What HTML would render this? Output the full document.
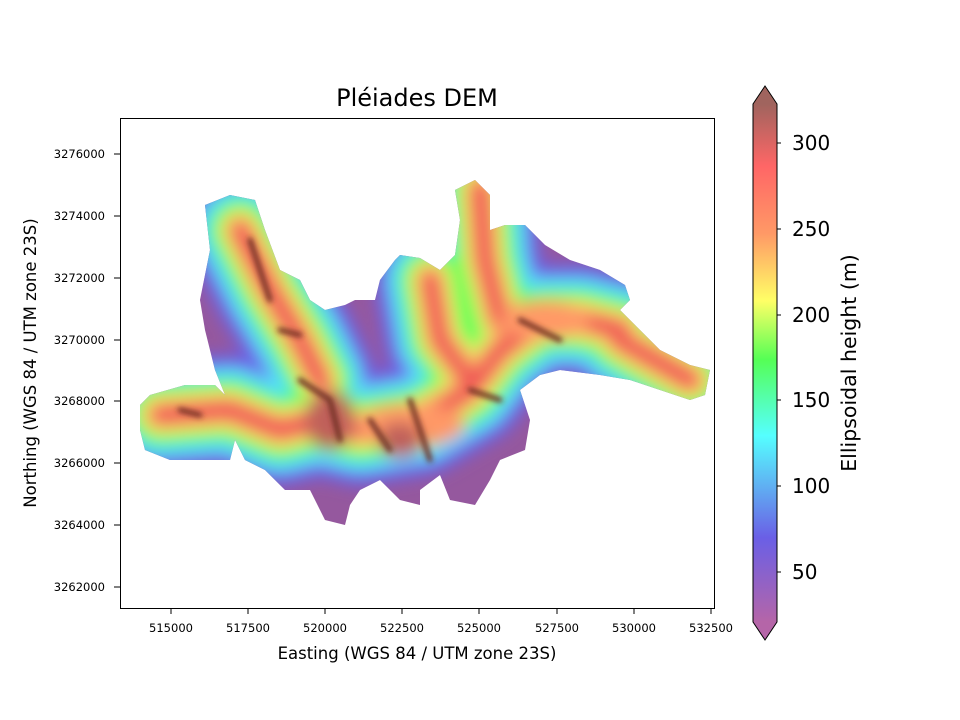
<!DOCTYPE html>
<html><head><meta charset="utf-8"><style>
body{margin:0;background:#fff;}
svg{display:block;font-family:"DejaVu Sans","Liberation Sans",sans-serif;}
</style></head><body>
<svg width="960" height="720" viewBox="0 0 960 720" xmlns="http://www.w3.org/2000/svg">
<defs>
<linearGradient id="cb" x1="0" y1="1" x2="0" y2="0">
<stop offset="0" stop-color="#b565a8"/>
<stop offset="0.163" stop-color="#6a5fe6"/>
<stop offset="0.36" stop-color="#5ff"/>
<stop offset="0.507" stop-color="#5f5"/>
<stop offset="0.62" stop-color="#ff6"/>
<stop offset="0.75" stop-color="#f96"/>
<stop offset="0.88" stop-color="#f66"/>
<stop offset="1" stop-color="#a0645e"/>
</linearGradient>
<clipPath id="land"><path id="lp" d="M140,405 L150,395 185,385 215,385 225,395 215,370 205,330 200,300 210,250 205,205 230,195 255,200 265,230 280,270 300,280 310,300 325,310 345,305 355,300 375,300 380,280 395,260 400,255 420,258 440,270 455,255 460,220 455,190 475,180 490,195 490,230 505,225 525,225 545,245 570,260 600,270 625,285 630,300 620,310 640,330 660,350 690,365 710,370 705,395 690,400 660,390 630,380 600,375 560,370 540,375 520,390 530,420 525,450 500,460 490,480 475,505 450,500 440,475 420,490 420,505 400,500 380,480 360,490 350,505 345,525 325,520 310,490 285,490 265,470 245,460 235,440 230,460 200,460 170,460 145,450 140,430 Z"/></clipPath>
<filter id="bl" x="-20%" y="-20%" width="140%" height="140%"><feGaussianBlur stdDeviation="8"/></filter>
<filter id="bs" x="-20%" y="-20%" width="140%" height="140%"><feGaussianBlur stdDeviation="3"/></filter>
</defs>
<use href="#lp" fill="#8f4f99" opacity="0.95"/>
<g clip-path="url(#land)" fill="none" stroke-linecap="round" stroke-linejoin="round">
<g filter="url(#bl)">
<g id="sp">
<path d="M160,415 L230,410 280,430 320,420 360,430 420,420 470,390 500,350 540,320 580,320 620,330"/>
<path d="M240,230 L270,290 300,340 320,380"/>
<path d="M430,280 L440,340 470,380"/>
<path d="M480,190 L485,260 500,320"/>
<path d="M620,340 L690,380"/>
</g>
<use href="#sp" stroke="#6a5fe6" stroke-width="112"/>
<use href="#sp" stroke="#55ddff" stroke-width="85"/>
<use href="#sp" stroke="#5f5" stroke-width="62"/>
<use href="#sp" stroke="#ee6" stroke-width="42"/>
<use href="#sp" stroke="#f96" stroke-width="28"/>
<use href="#sp" stroke="#e55" stroke-width="15"/>
<ellipse cx="410" cy="425" rx="55" ry="22" fill="#f96" stroke="none"/>
<ellipse cx="545" cy="320" rx="45" ry="20" fill="#f96" stroke="none"/>
<ellipse cx="330" cy="420" rx="25" ry="30" fill="#c0605a" stroke="none"/>
<ellipse cx="400" cy="440" rx="22" ry="18" fill="#c0605a" stroke="none"/>
</g>
<g filter="url(#bs)" stroke="#6a2a22" stroke-width="5">
<path d="M300,380 L330,400 340,440 M370,420 L390,450 M410,400 L430,460 M470,390 L500,400 M520,320 L560,340 M250,240 L270,300 M180,410 L200,415 M280,330 L300,335"/>
</g>
</g>
<rect x="120.5" y="118.5" width="594" height="490" fill="none" stroke="#000"/>
<g font-size="11.5" text-anchor="middle" fill="#000">
<g stroke="#000"><line x1="171" y1="609" x2="171" y2="614"/><line x1="248" y1="609" x2="248" y2="614"/><line x1="325" y1="609" x2="325" y2="614"/><line x1="402" y1="609" x2="402" y2="614"/><line x1="479" y1="609" x2="479" y2="614"/><line x1="557" y1="609" x2="557" y2="614"/><line x1="634" y1="609" x2="634" y2="614"/><line x1="711" y1="609" x2="711" y2="614"/></g>
<text x="171" y="632">515000</text><text x="248" y="632">517500</text><text x="325" y="632">520000</text><text x="402" y="632">522500</text><text x="479" y="632">525000</text><text x="557" y="632">527500</text><text x="634" y="632">530000</text><text x="711" y="632">532500</text>
</g>
<g font-size="11.5" text-anchor="end">
<g stroke="#000"><line x1="114" y1="154" x2="120" y2="154"/><line x1="114" y1="216" x2="120" y2="216"/><line x1="114" y1="278" x2="120" y2="278"/><line x1="114" y1="340" x2="120" y2="340"/><line x1="114" y1="401" x2="120" y2="401"/><line x1="114" y1="463" x2="120" y2="463"/><line x1="114" y1="525" x2="120" y2="525"/><line x1="114" y1="587" x2="120" y2="587"/></g>
<text x="105" y="158">3276000</text><text x="105" y="220">3274000</text><text x="105" y="282">3272000</text><text x="105" y="344">3270000</text><text x="105" y="405">3268000</text><text x="105" y="467">3266000</text><text x="105" y="529">3264000</text><text x="105" y="591">3262000</text>
</g>
<text x="417" y="659" font-size="16.5" text-anchor="middle">Easting (WGS 84 / UTM zone 23S)</text>
<text transform="translate(36,363) rotate(-90)" font-size="16.5" text-anchor="middle">Northing (WGS 84 / UTM zone 23S)</text>
<text x="417" y="106" font-size="24" text-anchor="middle">Pléiades DEM</text>
<rect x="753" y="104" width="24" height="518" fill="url(#cb)"/>
<path d="M753,104 L765,86 777,104 Z" fill="#a0645e"/>
<path d="M753,622 L765,640 777,622 Z" fill="#b565a8"/>
<path d="M753,104 L765,86 777,104 L777,622 765,640 753,622 Z" fill="none" stroke="#000"/>
<g stroke="#000"><line x1="777" y1="143" x2="781" y2="143"/><line x1="777" y1="229" x2="781" y2="229"/><line x1="777" y1="315" x2="781" y2="315"/><line x1="777" y1="400" x2="781" y2="400"/><line x1="777" y1="486" x2="781" y2="486"/><line x1="777" y1="572" x2="781" y2="572"/></g>
<g font-size="20"><text x="792" y="150">300</text><text x="792" y="236">250</text><text x="792" y="322">200</text><text x="792" y="407">150</text><text x="792" y="493">100</text><text x="792" y="579">50</text></g>
<text transform="translate(856,363) rotate(-90)" font-size="20.5" text-anchor="middle">Ellipsoidal height (m)</text>
</svg>
</body></html>
